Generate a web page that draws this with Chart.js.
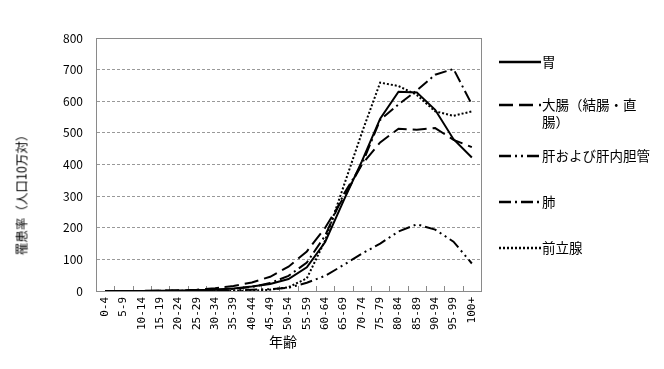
<!DOCTYPE html>
<html>
<head>
<meta charset="utf-8">
<script src="https://cdn.jsdelivr.net/npm/chart.js@4/dist/chart.umd.min.js"></script>
<style>
  html, body { margin: 0; padding: 0; background: #fff; }
  #wrap { position: relative; width: 664px; height: 369px; overflow: hidden; font-family: "Noto Sans CJK JP", sans-serif; color: #000; }
  canvas { position: absolute; left: 0; top: 0; }
  .ytitle { position: absolute; left: 21px; top: 192px; transform: translate(-50%, -50%) rotate(-90deg); font-size: 12.5px; white-space: nowrap; }
  .xtitle { position: absolute; left: 283px; top: 341px; transform: translate(-50%, -50%); font-size: 14px; white-space: nowrap; }
  .leg { position: absolute; left: 499px; font-size: 13.5px; line-height: 17px; white-space: nowrap; }
  .leg svg { position: absolute; left: 0; top: 7px; }
  .leg span { position: absolute; left: 43px; top: 0; }
</style>
</head>
<body>
<div id="wrap">
  <canvas id="c" width="664" height="369"></canvas>
  <div class="ytitle">罹患率（人口10万対）</div>
  <div class="xtitle">年齢</div>
  <div id="legend"></div>
</div>
<script>
const categories = ['0-4','5-9','10-14','15-19','20-24','25-29','30-34','35-39','40-44','45-49','50-54','55-59','60-64','65-69','70-74','75-79','80-84','85-89','90-94','95-99','100+'];
const stomach    = [0.2,0.1,0.2,0.5,1,2,4,8,14,22,38,75,155,285,410,545,630,628,573,480,422];
const colorectal = [0.3,0.2,0.3,1,2,4,9,16,27,45,77,125,200,295,400,470,513,510,515,478,455];
const liver      = [0.1,0.1,0.1,0.3,0.5,1,1.5,2,4,6,10,26,48,82,118,150,188,211,194,156,87];
const lung       = [0.1,0.1,0.2,0.5,1,2,4,7,13,25,48,90,175,305,400,541,590,634,684,702,590];
const prostate   = [0,0,0,0,0,0,0.1,0.5,1,4,12,40,160,330,500,659,648,620,568,554,568];
const seriesNames = ['胃','大腸（結腸・直腸）','肝および肝内胆管','肺','前立腺'];
const yTicks = [0,100,200,300,400,500,600,700,800];

const dashes = [[], [14,6], [12,4,2,4,2,4], [12,4,2,4], [2,2]];
const seriesData = [stomach, colorectal, liver, lung, prostate];

const frame = {
  id: 'frame',
  beforeDatasetsDraw(chart) {
    const a = chart.chartArea, ctx = chart.ctx;
    ctx.save();
    ctx.strokeStyle = '#8a8a8a';
    ctx.lineWidth = 1;
    ctx.strokeRect(Math.round(a.left) + 0.5, Math.round(a.top) + 0.5, Math.round(a.right - a.left), Math.round(a.bottom - a.top));
    const xs = chart.scales.x;
    for (let i = 0; i <= categories.length; i++) {
      const x = Math.round(xs.getPixelForValue(i - 0.5)) + 0.5;
      ctx.beginPath();
      ctx.moveTo(x, a.bottom);
      ctx.lineTo(x, a.bottom - 5);
      ctx.stroke();
    }
    ctx.restore();
  }
};

new Chart(document.getElementById('c'), {
  type: 'line',
  data: {
    labels: categories,
    datasets: seriesData.map((d, i) => ({
      label: seriesNames[i],
      data: d,
      borderColor: '#000',
      borderWidth: 2,
      borderDash: dashes[i],
      pointRadius: 0,
      fill: false,
      tension: 0
    }))
  },
  options: {
    responsive: false,
    animation: false,
    layout: { padding: { left: 0, top: 38, right: 183, bottom: 0 } },
    plugins: { legend: { display: false }, tooltip: { enabled: false } },
    scales: {
      x: {
        offset: true,
        afterFit(s) { s.height = 78; },
        grid: { display: true, drawOnChartArea: false, drawTicks: false },
        border: { display: true, color: '#8a8a8a' },
        ticks: { autoSkip: false, maxRotation: 90, minRotation: 90, padding: 6, color: '#000', font: { family: 'DejaVu Sans Mono', size: 11 } }
      },
      y: {
        min: 0, max: 800,
        afterFit(s) { s.width = 96; },
        afterBuildTicks(s) { s.ticks = yTicks.map(v => ({ value: v })); },
        grid: { color: '#999', lineWidth: 1, drawTicks: false },
        border: { display: true, color: '#8a8a8a', dash: [3, 2] },
        ticks: { padding: 13, color: '#000', font: { family: 'Noto Sans CJK JP', size: 12 } }
      }
    }
  },
  plugins: [frame]
});

// legend
const legTops = [53, 96, 147, 193, 239];
const legLabels = ['胃', '大腸（結腸・直<br>腸）', '肝および肝内胆管', '肺', '前立腺'];
const leg = document.getElementById('legend');
legLabels.forEach((t, i) => {
  const d = document.createElement('div');
  d.className = 'leg';
  d.style.top = legTops[i] + 'px';
  d.innerHTML = '<svg width="42" height="4"><line x1="0" y1="2" x2="42" y2="2" stroke="#000" stroke-width="2.5" stroke-dasharray="' + (dashes[i].length ? dashes[i].join(',') : 'none') + '"/></svg><span>' + t + '</span>';
  leg.appendChild(d);
});
</script>
</body>
</html>
